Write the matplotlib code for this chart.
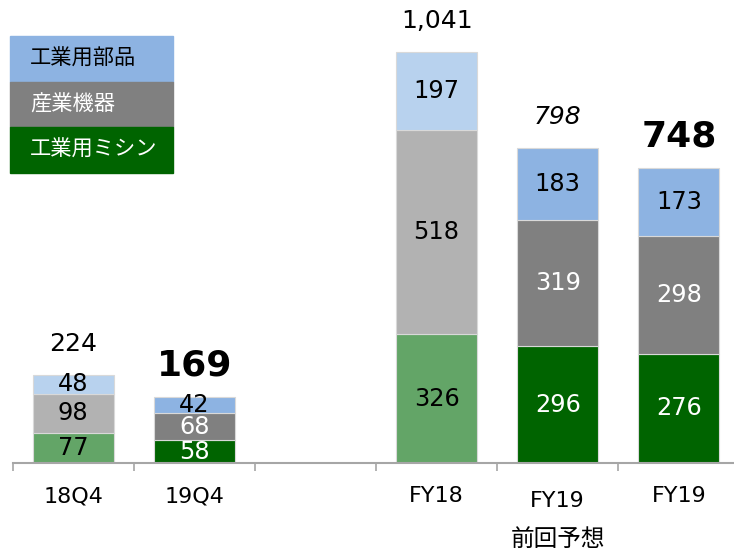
import matplotlib
matplotlib.use("Agg")
import matplotlib.pyplot as plt
import numpy as np

plt.rcParams['font.family'] = ['DejaVu Sans', 'Noto Sans CJK JP']

# data
categories = ["18Q4", "19Q4", "", "FY18", "FY19\n前回予想", "FY19"]
sewing = [77, 58, None, 326, 296, 276]       # 工業用ミシン
machinery = [98, 68, None, 518, 319, 298]    # 産業機器
parts = [48, 42, None, 197, 183, 173]        # 工業用部品
totals = [224, 169, None, 1041, 798, 748]
total_style = ["normal", "bold", None, "normal", "italic", "bold"]
series_names = ["工業用部品", "産業機器", "工業用ミシン"]

# light shades for the past periods, strong shades for the current ones
light = ["#63A567", "#B2B2B2", "#B8D2EE"]
dark = ["#006400", "#808080", "#8DB3E2"]
shade = ["light", "dark", None, "light", "dark", "dark"]

fig = plt.figure(figsize=(7.34, 5.5), dpi=100)
ax = fig.add_axes([12.6 / 734, 87 / 550, 726.8 / 734, 463 / 550])

for i, cat in enumerate(categories):
    if totals[i] is None:
        continue
    cols = light if shade[i] == "light" else dark
    vals = [sewing[i], machinery[i], parts[i]]
    bottom = 0
    for k, v in enumerate(vals):
        ax.bar(i, v, width=0.67, bottom=bottom, color=cols[k],
               edgecolor="#D9D9D9", linewidth=0.8)
        tc = "white" if (shade[i] == "dark" and k < 2) else "black"
        ax.text(i, bottom + v / 2, str(v), ha="center", va="center",
                fontsize=17.3, color=tc)
        bottom += v
    st = total_style[i]
    ax.annotate("{:,}".format(totals[i]), (i, totals[i]),
                xytext=(0, 22), textcoords="offset points",
                ha="center", va="center",
                fontsize=26 if st == "bold" else 18,
                fontweight="bold" if st == "bold" else "normal",
                fontstyle="italic" if st == "italic" else "normal")

ax.set_xlim(-0.5, 5.5)
ax.set_ylim(0, 1172)

for s in ["top", "right", "left"]:
    ax.spines[s].set_visible(False)
ax.spines["bottom"].set_color("#A6A6A6")
ax.spines["bottom"].set_linewidth(1.5)
ax.set_yticks([])
ax.set_xticks(np.arange(-0.5, 6, 1))
ax.set_xticklabels([])
ax.tick_params(axis="x", length=6, width=1.2, color="#A6A6A6", direction="out")

# category labels
for i, cat in enumerate(categories):
    if not cat:
        continue
    lines = cat.split("\n")
    y0 = -24 if len(lines) == 1 else -27.5
    ax.annotate(lines[0], (i, 0), xytext=(0, y0), textcoords="offset points",
                ha="center", va="center", fontsize=16)
    for j, ln in enumerate(lines[1:]):
        ax.annotate(ln, (i, 0), xytext=(0, y0 - 27 * (j + 1)),
                    textcoords="offset points", ha="center", va="center",
                    fontsize=17)

# legend as coloured boxes with text inside
box_cols = [dark[2], dark[1], dark[0]]
box_txt = ["black", "white", "white"]
for k, name in enumerate(series_names):
    y_top = 36 + k * 45.6
    fig.patches.append(plt.Rectangle((10 / 734, 1 - (y_top + 45.6) / 550),
                                     163 / 734, 45.6 / 550,
                                     transform=fig.transFigure,
                                     color=box_cols[k], zorder=3))
    fig.text(30 / 734, 1 - (y_top + 22.8) / 550, name, ha="left", va="center",
             fontsize=15.3, color=box_txt[k], zorder=4,
             family=['Noto Sans CJK JP', 'DejaVu Sans'])

fig.savefig("out.png", dpi=100)
